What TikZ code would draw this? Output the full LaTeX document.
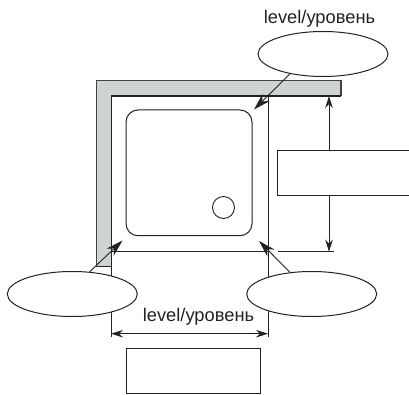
\documentclass[tikz,border=0pt]{standalone}
\usepackage{fontspec}
\setmainfont{Liberation Sans}
\usetikzlibrary{shapes.geometric,arrows.meta}
\definecolor{ink}{HTML}{222222}
\definecolor{wallgrey}{HTML}{D0D3D3}
\tikzset{
  pxgrid/.style={x=1pt,y=-1pt},
  bubble/.style={draw=ink,fill=white,ellipse,line width=1pt,minimum width=130pt,minimum height=45pt,inner sep=0pt},
  labelbox/.style={draw=ink,fill=white,line width=1.1pt},
  caption/.style={font=\fontsize{18.3}{20}\selectfont,text=ink,inner sep=0pt},
  thinline/.style={draw=ink,line width=1pt},
  pointer/.style={draw=ink,line width=0.9pt,-{Stealth[length=17pt,width=10pt]}},
  dimline/.style={draw=ink,line width=0.9pt,{Stealth[length=12pt,width=7.5pt]}-{Stealth[length=12pt,width=7.5pt]}}
}
\begin{document}
\begin{tikzpicture}[pxgrid]
\useasboundingbox (0,0) rectangle (409,395);
% wall
\fill[wallgrey] (96.5,80.5) -- (341,80.5) -- (341,96) -- (111,96) -- (111,266.5) -- (96.5,266.5) -- cycle;
\draw[ink!85,line width=1.2pt] (96.5,266.5) -- (96.5,80.5) -- (341,80.5) -- (341,96);
\draw[ink,line width=0.8pt] (96.5,266.5) -- (111,266.5);
\draw[ink,line width=1.2pt] (341,96) -- (111,96);
% room lines
\coordinate (roomTL) at (111,96);
\coordinate (roomTR) at (268,96);
\coordinate (roomBL) at (111,251.7);
\coordinate (roomBR) at (268,251.7);
\coordinate (extL) at (111,337);
\coordinate (extR) at (268,337);
\draw[thinline] (roomTL) -- (extL);
\draw[thinline] (roomTR) -- (extR);
\draw[thinline] (roomBL) -- (roomBR);
% tray
\node[draw=ink,line width=1pt,rounded corners=12pt,minimum width=126pt,minimum height=125.7pt,inner sep=0pt] (tray) at (189,172.85) {};
\node[draw=ink,circle,line width=0.9pt,minimum size=22pt,inner sep=0pt] (drain) at (223.5,207.5) {};
% height dimension
\coordinate (dimTop) at (329,96);
\coordinate (dimBot) at (329,251.7);
\coordinate (tickL) at (278,251.7);
\coordinate (tickR) at (334,251.7);
\draw[dimline] (dimTop) -- (dimBot);
\draw[thinline] (tickL) -- (tickR);
% open-ended right box
\node[labelbox,minimum width=140pt,minimum height=45pt,anchor=north west,inner sep=0pt] (heightbox) at (276.5,150) {};
% width dimension
\coordinate (dimL) at (111,333.7);
\coordinate (dimR) at (268,333.7);
\draw[dimline] (dimL) -- (dimR);
\node[caption] (widthlabel) at (198.5,317) {level/уровень};
\node[labelbox,minimum width=133.5pt,minimum height=44.7pt,anchor=north west,inner sep=0pt] (widthbox) at (126,348) {};
% bubbles
\node[bubble] (top) at (323,54) {};
\node[bubble] (left) at (72.3,294) {};
\node[bubble] (right) at (311.7,294) {};
\node[caption] (toplabel) at (319.5,19) {level/уровень};
% pointers
\coordinate (topTip) at (254,109.5);
\coordinate (leftTip) at (122.5,240.5);
\coordinate (rightTip) at (259,241);
\draw[pointer] (top.211) -- (topTip);
\draw[pointer] (left.52) -- (leftTip);
\draw[pointer] (right.135) -- (rightTip);
\end{tikzpicture}
\end{document}
